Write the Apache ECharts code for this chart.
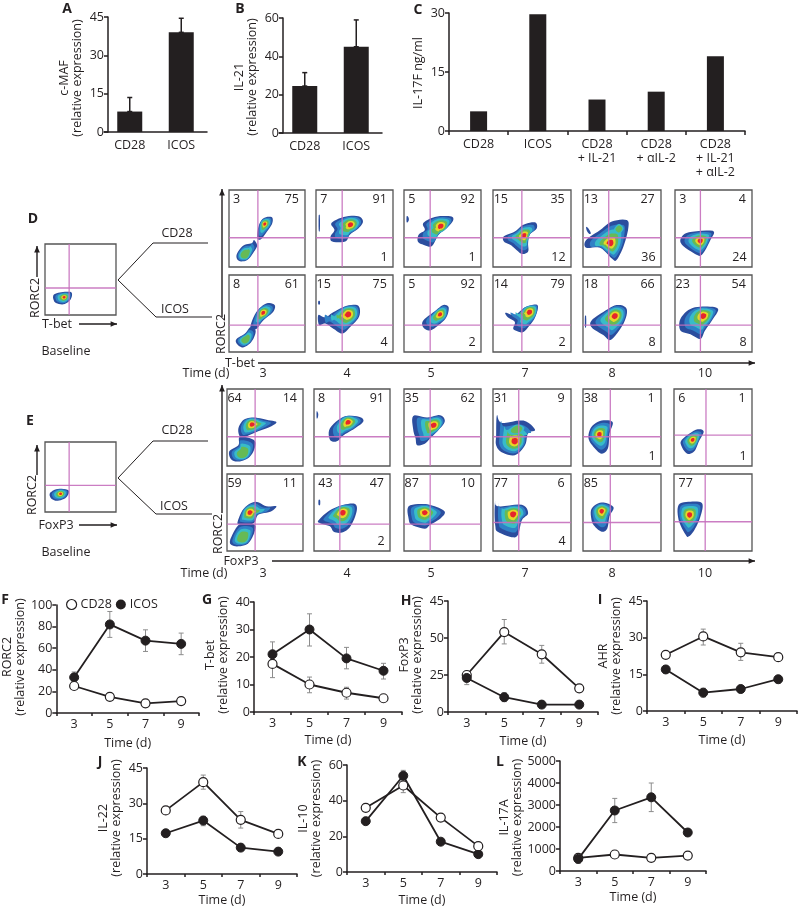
<!DOCTYPE html>
<html>
<head>
<meta charset="utf-8">
<title>Figure</title>
<script src="https://cdn.jsdelivr.net/npm/echarts@6/dist/echarts.min.js"></script>
<style>
html, body { margin: 0; padding: 0; background: #fff; }
#chart { width: 800px; height: 908px; }
</style>
</head>
<body>
<div id="chart"></div>
<script>
// bar panels
const abCategories = ['CD28', 'ICOS'];
const cMaf = [8, 39];
const cMafHigh = [13.5, 44.5];
const il21 = [24.5, 45];
const il21High = [31.5, 59];
const cCategories = ['CD28', 'ICOS', 'CD28\n+ IL-21', 'CD28\n+ αIL-2', 'CD28\n+ IL-21\n+ αIL-2'];
const il17f = [5, 29.7, 8, 10, 19];

// time course panels, errors are [low, high]
const days = ['3', '5', '7', '9'];
const fCd28 = [25, 15, 9, 11];
const fIcos = [33, 82, 67, 64];
const fCd28Err = [[22, 28], [12, 18], [7, 11], [9, 13]];
const fIcosErr = [[29, 38], [70, 94], [57, 77], [54, 74]];
const gCd28 = [17.5, 10, 7, 5];
const gIcos = [21, 30, 19.5, 15];
const gCd28Err = [[12.5, 21], [7, 12.7], [4.7, 9], [4, 6]];
const gIcosErr = [[18, 25.5], [24, 35.7], [15.7, 23.5], [12, 17.7]];
const hCd28 = [25, 54, 39, 16];
const hIcos = [23, 10, 5, 5];
const hCd28Err = [[23, 27], [46, 62.5], [33, 45], [14, 18]];
const hIcosErr = [[18.5, 26], [7, 13], [3, 6], [3.5, 6]];
const hTickLabels = ['0', '25', '50', '45']; // the top label of H really reads 45
const iCd28 = [23, 30.5, 24, 22];
const iIcos = [17, 7.5, 9, 13];
const iCd28Err = [[21.5, 24], [27, 33.5], [20.7, 27.7], [20.5, 23]];
const iIcosErr = [[16, 18.5], [5.7, 9.3], [7.5, 10], [11.5, 14]];
const jCd28 = [27, 39, 23, 17];
const jIcos = [17.3, 22.7, 11.2, 9.5];
const jCd28Err = [[26, 28], [36, 42], [19.5, 26.5], [16, 18]];
const jIcosErr = [[16, 18.5], [20.5, 24.5], [10, 12.5], [8.5, 10.5]];
const kCd28 = [36, 48.5, 30.5, 14.5];
const kIcos = [28.5, 54, 17, 10];
const kCd28Err = [[34, 38], [44.5, 52], [29, 32], [13, 16]];
const kIcosErr = [[27, 30], [51, 57], [15.5, 18.5], [9, 11]];
const lCd28 = [600, 750, 600, 700];
const lIcos = [550, 2750, 3350, 1750];
const lCd28Err = [[500, 700], [650, 850], [500, 700], [600, 800]];
const lIcosErr = [[350, 750], [2200, 3300], [2700, 4000], [1600, 1900]];

// flow plots: percent in the upper left, upper right, lower right gate
const dCd28Labels = [[3, 75, ''], [7, 91, 1], [5, 92, 1], [15, 35, 12], [13, 27, 36], [3, 4, 24]];
const dIcosLabels = [[8, 61, ''], [15, 75, 4], [5, 92, 2], [14, 79, 2], [18, 66, 8], [23, 54, 8]];
const eCd28Labels = [[64, 14, ''], [8, 91, ''], [35, 62, ''], [31, 9, ''], [38, 1, 1], [6, 1, 1]];
const eIcosLabels = [[59, 11, ''], [43, 47, 2], [87, 10, ''], [77, 6, 4], [85, '', ''], [77, '', '']];

// gate crossing of each plot, 0-100 on both axes
const dCd28Gates = [[38, 38], [34, 38], [34, 38], [37, 38], [33, 38], [33, 38]];
const dIcosGates = [[38, 35], [34, 35], [34, 35], [37, 35], [33, 35], [33, 35]];
const eCd28Gates = [[37, 38], [34, 38], [34, 38], [33, 38], [35, 38], [41, 40]];
const eIcosGates = [[37, 35], [34, 35], [34, 35], [33, 37], [35, 37], [40, 38]];
const dBaselineGate = [34, 38];
const eBaselineGate = [34, 38];

// density contours: [peak x, peak y, first level, last level, outline x,y,...]
const dCd28Blobs = [
  [[47, 56, 0, 5, [37, 38, 39, 53, 45, 63, 56, 65, 57, 57, 50, 46, 42, 36]],
   [21, 16, 0, 3, [33, 35, 37, 28, 33, 20, 24, 9, 13, 8, 10, 16, 19, 28, 30, 31]]],
  [[45, 55, 0, 5, [20, 57, 36, 65, 55, 66, 61, 59, 55, 50, 44, 42, 38, 33, 21, 33, 19, 40, 24, 48]],
   [4, 57, 0, 0, [3.5, 66, 5, 66, 5, 48, 3.5, 48]]],
  [[48, 53, 0, 5, [25, 57, 40, 65, 60, 66, 64, 61, 57, 52, 45, 42, 36, 27, 25, 29, 18, 33, 19, 42, 27, 48]],
   [5, 62, 0, 0, [3.5, 66, 6, 64, 6, 60, 3.5, 58]]],
  [[40, 41, 0, 5, [14, 40, 28, 46, 39, 55, 54, 58, 56, 50, 47, 42, 45, 31, 45, 20, 37, 17, 28, 24, 22, 29, 14, 33]]],
  [[35, 31, 0, 5, [4, 35, 22, 48, 37, 59, 56, 61, 58, 50, 52, 27, 43, 9, 37, 11, 22, 25, 4, 25]],
   [46, 49, 2, 3, [40, 49, 46, 56, 52, 50, 46, 43]],
   [7, 47, 0, 0, [4, 52, 7, 50, 10, 44, 8, 43, 5, 47]]],
  [[33, 34, 0, 5, [8, 38, 18, 45, 49, 47, 46, 35, 35, 16, 26, 17, 9, 29]]]
];
const dIcosBlobs = [
  [[45, 51, 0, 5, [28, 32, 36, 52, 49, 63, 60, 61, 58, 52, 45, 41, 36, 30]],
   [22, 16, 0, 3, [35, 28, 32, 17, 25, 9, 17, 6, 10, 11, 10, 17, 21, 24, 28, 32]]],
  [[42, 49, 0, 5, [3, 48, 12, 45, 23, 52, 40, 60, 55, 60, 56, 46, 44, 32, 34, 24, 23, 30, 12, 37, 4, 35]],
   [4, 64, 0, 0, [3, 66, 5, 66, 5, 62, 3, 62]]],
  [[47, 49, 0, 5, [25, 41, 40, 53, 51, 61, 58, 58, 55, 45, 45, 35, 34, 28, 25, 32]]],
  [[47, 52, 0, 5, [16, 51, 28, 48, 41, 58, 57, 61, 54, 45, 45, 32, 39, 26, 34, 26, 26, 30, 28, 39, 19, 45]]],
  [[41, 47, 0, 5, [11, 41, 26, 52, 43, 61, 56, 56, 52, 37, 36, 16, 26, 22, 11, 32]],
   [3, 40, 0, 0, [2.5, 46, 4, 46, 4, 33, 2.5, 33]]],
  [[37, 47, 0, 5, [7, 43, 20, 56, 39, 59, 56, 56, 48, 41, 39, 28, 33, 17, 20, 23, 7, 28]]]
];
const eCd28Blobs = [
  [[33, 54, 0, 5, [15, 49, 22, 60, 35, 63, 52, 60, 65, 57, 57, 51, 41, 45, 24, 38, 17, 38]],
   [21, 16, 0, 3, [17, 38, 35, 34, 37, 25, 30, 12, 17, 6, 6, 8, 3, 19, 15, 27]]],
  [[45, 57, 0, 5, [21, 49, 39, 64, 59, 64, 65, 58, 54, 49, 39, 40, 30, 32, 21, 34]],
   [4, 66, 0, 0, [3.5, 71, 5.5, 68, 5, 63, 3.5, 62]]],
  [[39, 53, 0, 5, [12, 65, 30, 63, 47, 66, 53, 58, 45, 47, 34, 36, 27, 29, 17, 27, 15, 36, 12, 47]]],
  [[28, 32, 0, 5, [5, 66, 11, 56, 39, 59, 54, 47, 45, 43, 41, 27, 28, 14, 11, 18, 4, 27, 4, 40]],
   [31, 48, 2, 3, [20, 47, 31, 54, 40, 50, 35, 42, 22, 41]]],
  [[21, 41, 0, 5, [11, 51, 24, 59, 38, 57, 34, 42, 32, 23, 24, 16, 15, 23, 7, 36]]],
  [[24, 34, 0, 5, [10, 34, 28, 47, 38, 45, 32, 32, 26, 19, 17, 16, 10, 25]]]
];
const eIcosBlobs = [
  [[30, 50, 0, 5, [14, 38, 22, 55, 37, 64, 52, 58, 65, 58, 57, 51, 41, 47, 35, 36, 17, 35]],
   [21, 17, 0, 3, [17, 35, 35, 35, 37, 27, 28, 10, 13, 6, 4, 10, 7, 21]]],
  [[38, 50, 0, 5, [6, 40, 21, 53, 39, 60, 54, 61, 56, 51, 48, 32, 37, 24, 26, 25, 21, 32, 8, 36]],
   [7, 63, 0, 0, [6, 66, 8, 66, 8, 60, 6, 60]]],
  [[27, 50, 0, 5, [6, 58, 25, 61, 40, 58, 53, 51, 47, 42, 34, 34, 27, 29, 10, 34, 6, 42]]],
  [[26, 48, 0, 5, [3, 66, 6, 58, 37, 60, 45, 49, 37, 40, 32, 21, 24, 18, 6, 25, 3, 32, 2, 49]]],
  [[24, 52, 0, 5, [11, 55, 24, 63, 39, 57, 34, 45, 31, 29, 24, 25, 15, 32, 11, 40]]],
  [[20, 47, 0, 5, [6, 60, 21, 64, 36, 62, 34, 45, 26, 27, 19, 19, 15, 21, 6, 40]]]
];
const dBaselineBlobs = [[27, 25, 0, 5, [12, 28, 23, 32, 37, 32, 36, 22, 26, 15, 14, 18]]];
const eBaselineBlobs = [[22, 26, 0, 5, [7, 27, 18, 33, 33, 31, 30, 21, 18, 16, 9, 19]]];

const ink = '#231f20';
const grey = '#8c8c8c';
const gatePink = '#c56fbd';
const fontFamily = '"Open Sans", sans-serif';
const fontSize = 12.5;
const contourScale = [1, 0.82, 0.64, 0.46, 0.3, 0.17];
const contourColors = ['#2b4d9e', '#2f80c6', '#38bcc8', '#66ba55', '#e6d628', '#e7252b'];

const grids = [];
const xAxes = [];
const yAxes = [];
const series = [];

// y axis shared by the bar and line panels
function valueAxis(p) {
  return {
    type: 'value', gridIndex: grids.length - 1,
    min: 0, max: p.max, interval: p.interval, offset: p.offset || 0,
    name: p.name, nameLocation: 'middle', nameGap: p.nameGap, nameRotate: 90,
    nameTextStyle: { color: ink, fontFamily, fontSize, lineHeight: 13, padding: p.namePadding || 0 },
    axisLine: { show: true, onZero: false, lineStyle: { color: ink, width: 1.5 } },
    axisTick: { show: true, length: 4, lineStyle: { color: ink, width: 1.5 } },
    axisLabel: { color: ink, fontFamily, fontSize, margin: 4, formatter: p.formatter || (v => String(v)) },
    splitLine: { show: false }
  };
}

function errorBars(values, color, capHalf, stem) {
  const gi = grids.length - 1;
  return {
    type: 'custom', xAxisIndex: gi, yAxisIndex: gi, silent: true, z: 1,
    data: values.map((v, i) => [i, v[0], v[1]]),
    renderItem: (params, api) => {
      const low = api.coord([api.value(0), api.value(1)]);
      const high = api.coord([api.value(0), api.value(2)]);
      const style = { stroke: color, lineWidth: stem };
      return {
        type: 'group',
        children: [
          { type: 'line', shape: { x1: low[0], y1: low[1], x2: high[0], y2: high[1] }, style },
          { type: 'line', shape: { x1: high[0] - capHalf, y1: high[1], x2: high[0] + capHalf, y2: high[1] }, style },
          { type: 'line', shape: { x1: low[0] - capHalf, y1: low[1], x2: low[0] + capHalf, y2: low[1] }, style }
        ]
      };
    }
  };
}

function barPanel(p) {
  grids.push({ left: p.left, top: p.top, width: p.width, height: p.height });
  const gi = grids.length - 1;
  xAxes.push({
    type: 'category', gridIndex: gi, data: p.categories,
    axisLine: { show: true, onZero: false, lineStyle: { color: ink, width: 1.5 } },
    axisTick: { show: p.ticks, length: 4, lineStyle: { color: ink, width: 1.5 } },
    axisLabel: { color: ink, fontFamily, fontSize, margin: 6, lineHeight: 14, interval: 0 }
  });
  yAxes.push(valueAxis(p));
  series.push({
    type: 'bar', xAxisIndex: gi, yAxisIndex: gi, data: p.values, barWidth: p.barWidth, silent: true, z: 2,
    itemStyle: { color: ink }
  });
  if (p.high) {
    series.push(errorBars(p.values.map((v, i) => [v, p.high[i]]), ink, 2.5, 1.5));
  }
}

function linePanel(p) {
  grids.push({ left: p.left, top: p.top, width: p.width, height: p.height });
  const gi = grids.length - 1;
  xAxes.push({
    type: 'category', gridIndex: gi, data: days,
    name: 'Time (d)', nameLocation: 'middle', nameGap: p.xNameGap,
    nameTextStyle: { color: ink, fontFamily, fontSize },
    axisLine: { show: true, onZero: false, lineStyle: { color: ink, width: 1.5 } },
    axisTick: { show: true, length: 3, lineStyle: { color: ink, width: 1.5 } },
    axisLabel: { color: ink, fontFamily, fontSize, margin: 5, interval: 0 }
  });
  yAxes.push(valueAxis(p));
  series.push(errorBars(p.cd28Err, grey, 2.5, 1));
  series.push(errorBars(p.icosErr, grey, 2.5, 1));
  series.push({
    name: 'ICOS', type: 'line', xAxisIndex: gi, yAxisIndex: gi, data: p.icos, silent: true, z: p.icosOnTop ? 5 : 3,
    symbol: 'circle', symbolSize: 9, lineStyle: { color: ink, width: 1.8 },
    itemStyle: { color: ink, borderColor: ink, borderWidth: 1 }
  });
  series.push({
    name: 'CD28', type: 'line', xAxisIndex: gi, yAxisIndex: gi, data: p.cd28, silent: true, z: 4,
    symbol: 'circle', symbolSize: 9, lineStyle: { color: ink, width: 1.8 },
    itemStyle: { color: '#fff', borderColor: ink, borderWidth: 1.2 }
  });
}

// closed Catmull-Rom through the outline, so the contours come out round
function roundOutline(pts) {
  const n = pts.length;
  const out = [];
  for (let i = 0; i < n; i++) {
    const p0 = pts[(i + n - 1) % n];
    const p1 = pts[i];
    const p2 = pts[(i + 1) % n];
    const p3 = pts[(i + 2) % n];
    for (let k = 0; k < 6; k++) {
      const t = k / 6;
      const f = j => 0.5 * (2 * p1[j] + (p2[j] - p0[j]) * t
        + (2 * p0[j] - 5 * p1[j] + 4 * p2[j] - p3[j]) * t * t
        + (3 * p1[j] - p0[j] - 3 * p2[j] + p3[j]) * t * t * t);
      out.push([f(0), f(1)]);
    }
  }
  return out;
}

// inner levels shrink toward the peak and get rounder the higher they are
function contourLevel(px, py, outline, s, roundness) {
  const radii = outline.map(q => Math.hypot(q[0] - px, q[1] - py));
  const mean = radii.reduce((a, b) => a + b, 0) / radii.length;
  return outline.map((q, i) => {
    const r = radii[i] || 1;
    const target = r * (1 - roundness) + mean * roundness;
    return [px + (q[0] - px) / r * target * s, py + (q[1] - py) / r * target * s];
  });
}

function flowPlot(left, right, top, bottom, blobs, gate, labels, ulX) {
  grids.push({
    left, top, width: right - left, height: bottom - top,
    show: true, borderColor: '#555', borderWidth: 1.3, backgroundColor: '#fff'
  });
  const gi = grids.length - 1;
  xAxes.push({ type: 'value', gridIndex: gi, min: 0, max: 100, show: false });
  yAxes.push({ type: 'value', gridIndex: gi, min: 0, max: 100, show: false });
  series.push({
    type: 'custom', xAxisIndex: gi, yAxisIndex: gi, silent: true, data: [0],
    renderItem: (params, api) => {
      const children = [];
      blobs.forEach(([px, py, from, to, pts]) => {
        const raw = [];
        for (let i = 0; i < pts.length; i += 2) raw.push([pts[i], pts[i + 1]]);
        const outline = roundOutline(raw);
        for (let lv = from; lv <= to; lv++) {
          const s = contourScale[lv] / contourScale[from];
          const ring = contourLevel(px, py, outline, s, (lv - from) * 0.14);
          children.push({ type: 'polygon', shape: { points: ring.map(q => api.coord(q)) }, style: { fill: contourColors[lv] } });
        }
      });
      const a = api.coord([gate[0], 0]);
      const b = api.coord([gate[0], 100]);
      const c = api.coord([0, gate[1]]);
      const d = api.coord([100, gate[1]]);
      const gateStyle = { stroke: gatePink, lineWidth: 1.3, opacity: 0.9 };
      children.push({ type: 'line', shape: { x1: a[0], y1: a[1], x2: b[0], y2: b[1] }, style: gateStyle });
      children.push({ type: 'line', shape: { x1: c[0], y1: c[1], x2: d[0], y2: d[1] }, style: gateStyle });
      if (labels) {
        const font = fontSize + 'px ' + fontFamily;
        const spots = [[ulX || 10, 88, 'center'], [92, 88, 'right'], [93, 13, 'right']];
        labels.forEach((text, i) => {
          if (text === '') return;
          const at = api.coord([spots[i][0], spots[i][1]]);
          children.push({
            type: 'text',
            style: { text: String(text), x: at[0], y: at[1], align: spots[i][2], verticalAlign: 'middle', font, fill: ink }
          });
        });
      }
      return { type: 'group', children };
    }
  });
}

barPanel({ left: 104, top: 17, width: 103, height: 115, offset: -4, categories: abCategories, values: cMaf, high: cMafHigh, barWidth: 25, max: 45, interval: 15, name: 'c-MAF\n(relative expression)', nameGap: 24, namePadding: [0, 7, 0, 0] });
barPanel({ left: 279, top: 18, width: 103, height: 115, offset: -4, categories: abCategories, values: il21, high: il21High, barWidth: 25, max: 60, interval: 20, name: 'IL-21\n(relative expression)', nameGap: 24, namePadding: [0, 3, 0, 0] });
barPanel({ left: 449, top: 13, width: 296, height: 118, categories: cCategories, values: il17f, ticks: true, barWidth: 17, max: 30, interval: 15, name: 'IL-17F ng/ml', nameGap: 24, namePadding: [0, 2, 0, 0] });

const flowColsD = [[229, 305], [316, 393], [404, 481], [493, 571], [583, 661], [675, 752]];
const flowColsE = [[227, 303], [314, 390], [404, 481], [493, 571], [583, 661], [674, 752]];
const ulShiftE = [null, 15, null, null, null, 15];
flowColsD.forEach((c, i) => {
  flowPlot(c[0], c[1], 190, 267, dCd28Blobs[i], dCd28Gates[i], dCd28Labels[i]);
  flowPlot(c[0], c[1], 275, 352, dIcosBlobs[i], dIcosGates[i], dIcosLabels[i]);
});
flowColsE.forEach((c, i) => {
  flowPlot(c[0], c[1], 389, 466, eCd28Blobs[i], eCd28Gates[i], eCd28Labels[i]);
  flowPlot(c[0], c[1], 474, 551, eIcosBlobs[i], eIcosGates[i], eIcosLabels[i], ulShiftE[i]);
});
flowPlot(45, 116, 244, 315, dBaselineBlobs, dBaselineGate);
flowPlot(45, 116, 442, 512, eBaselineBlobs, eBaselineGate);

const relExp = '\n(relative expression)';
linePanel({ left: 53, top: 605, width: 146, height: 108, cd28: fCd28, icos: fIcos, cd28Err: fCd28Err, icosErr: fIcosErr, max: 100, interval: 20, name: 'RORC2' + relExp, nameGap: 24, namePadding: [0, 0, 0, 4], xNameGap: 24 });
linePanel({ left: 254, top: 602, width: 148, height: 110, cd28: gCd28, icos: gIcos, cd28Err: gCd28Err, icosErr: gIcosErr, max: 40, interval: 10, name: 'T-bet' + relExp, nameGap: 24, namePadding: [0, 0, 0, 4], xNameGap: 22 });
linePanel({ left: 448, top: 601, width: 150, height: 111, icosOnTop: true, cd28: hCd28, icos: hIcos, cd28Err: hCd28Err, icosErr: hIcosErr, max: 75, interval: 25, formatter: v => hTickLabels[v / 25], name: 'FoxP3' + relExp, nameGap: 24, namePadding: [0, 0, 0, 3], xNameGap: 23 });
linePanel({ left: 647, top: 601, width: 150, height: 110, cd28: iCd28, icos: iIcos, cd28Err: iCd28Err, icosErr: iIcosErr, max: 45, interval: 15, name: 'AHR' + relExp, nameGap: 24, xNameGap: 23 });
linePanel({ left: 147, top: 768, width: 150, height: 109, cd28: jCd28, icos: jIcos, cd28Err: jCd28Err, icosErr: jIcosErr, max: 45, interval: 15, name: 'IL-22' + relExp, nameGap: 24, namePadding: [0, 0, 0, 6], xNameGap: 20 });
linePanel({ left: 347, top: 765, width: 150, height: 109, cd28: kCd28, icos: kIcos, cd28Err: kCd28Err, icosErr: kIcosErr, max: 60, interval: 20, name: 'IL-10' + relExp, nameGap: 24, xNameGap: 22 });
linePanel({ left: 560, top: 761, width: 146, height: 110, icosOnTop: true, cd28: lCd28, icos: lIcos, cd28Err: lCd28Err, icosErr: lIcosErr, max: 5000, interval: 1000, name: 'IL-17A' + relExp, nameGap: 24, namePadding: [0, 3, 0, 0], xNameGap: 20 });

// annotations around the flow plots
const graphic = [];
function note(text, x, y, opts) {
  const o = opts || {};
  graphic.push({
    type: 'text', x, y, rotation: o.rotate ? Math.PI / 2 : 0, z: 10, silent: true,
    style: {
      text, align: 'center', verticalAlign: 'middle', fill: ink,
      font: (o.bold ? 'bold 14px ' : fontSize + 'px ') + fontFamily
    }
  });
}
function path(points, width) {
  graphic.push({ type: 'polyline', z: 10, silent: true, shape: { points }, style: { stroke: ink, lineWidth: width || 1, fill: null } });
}
function arrow(x1, y1, x2, y2) {
  path([[x1, y1], [x2, y2]], 1.4);
  const a = Math.atan2(y2 - y1, x2 - x1);
  const h = 7;
  graphic.push({
    type: 'polygon', z: 10, silent: true,
    shape: { points: [[x2, y2],
      [x2 - h * Math.cos(a - 0.42), y2 - h * Math.sin(a - 0.42)],
      [x2 - h * Math.cos(a + 0.42), y2 - h * Math.sin(a + 0.42)]] },
    style: { fill: ink }
  });
}

[['A', 67, 9], ['B', 240, 9], ['C', 418, 10], ['D', 33, 219], ['E', 30, 421], ['F', 5, 600], ['G', 207, 600],
 ['H', 406, 601], ['I', 600, 600], ['J', 100, 762], ['K', 302, 762], ['L', 500, 762]].forEach(l => note(l[0], l[1], l[2], { bold: true }));

// D
note('RORC2', 35, 298, { rotate: true });
arrow(37, 277, 37, 246);
note('T-bet', 57, 324);
arrow(79, 324, 117, 324);
note('Baseline', 66, 351);
path([[118, 280], [153, 243], [208, 243]]);
path([[118, 280], [156, 317], [212, 317]]);
note('CD28', 177, 233);
note('ICOS', 175, 309);
arrow(222, 317, 222, 189);
note('RORC2', 221, 334, { rotate: true });
note('T-bet', 240, 363);
arrow(258, 363, 755, 363);
note('Time (d)', 206, 373);
// E
note('RORC2', 32, 495, { rotate: true });
arrow(37, 475, 37, 445);
note('FoxP3', 56, 525);
arrow(79, 525, 117, 525);
note('Baseline', 66, 552);
path([[118, 478], [153, 441], [208, 441]]);
path([[118, 478], [156, 514], [212, 514]]);
note('CD28', 177, 430);
note('ICOS', 174, 506);
arrow(222, 513, 222, 385);
note('RORC2', 218, 534, { rotate: true });
note('FoxP3', 241, 561);
arrow(272, 561, 755, 561);
note('Time (d)', 204, 573);
['3', '4', '5', '7', '8', '10'].forEach((t, i) => {
  const x = [263, 347, 431, 525, 612, 705][i];
  note(t, x, 373);
  note(t, x, 573);
});

const chart = echarts.init(document.getElementById('chart'));
chart.setOption({
  animation: false,
  backgroundColor: '#fff',
  textStyle: { fontFamily },
  legend: {
    left: 61, top: 593, itemWidth: 10, itemHeight: 10, itemGap: 4, selectedMode: false,
    textStyle: { color: ink, fontFamily, fontSize, padding: [0, 0, 0, -1] },
    data: [
      { name: 'CD28', icon: 'circle', itemStyle: { color: '#fff', borderColor: ink, borderWidth: 1.2 } },
      { name: 'ICOS', icon: 'circle', itemStyle: { color: ink, borderWidth: 0 } }
    ]
  },
  grid: grids,
  xAxis: xAxes,
  yAxis: yAxes,
  series,
  graphic
});
</script>
</body>
</html>
